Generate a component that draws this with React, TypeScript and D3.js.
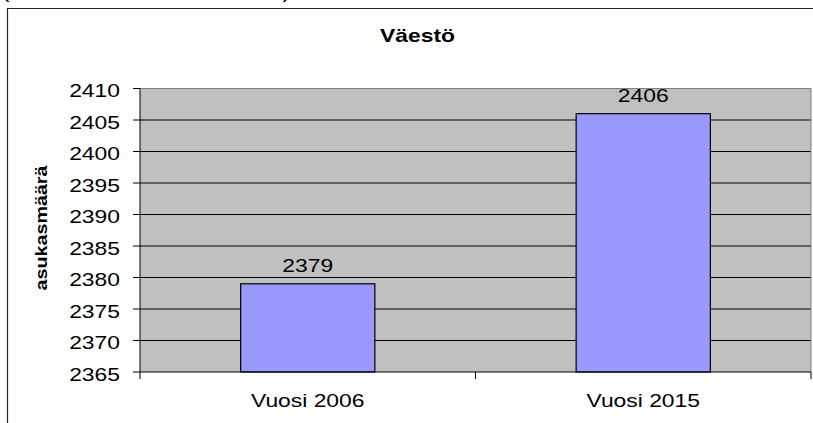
import React from "react";
import * as d3 from "d3";

const categories = ["Vuosi 2006", "Vuosi 2015"];
const populations = [2379, 2406];
const yTickValues = [2365, 2370, 2375, 2380, 2385, 2390, 2395, 2400, 2405, 2410];
const chartTitle = "Väestö";
const yAxisTitle = "asukasmäärä";

const W = 813;
const H = 423;
const P = { left: 140, right: 811, top: 88.5, bottom: 372 };
const FONT = "'Liberation Sans', Arial, Helvetica, sans-serif";
const SX = 1.27;

function SText(props: { x: number; y: number; anchor?: string; size?: number; bold?: boolean; children: any }) {
  const { x, y, anchor = "middle", size = 18, bold = false, children } = props;
  return (
    <g transform={`translate(${x},${y}) scale(${SX},1)`}>
      <text textAnchor={anchor} fontSize={size} fontWeight={bold ? "bold" : "normal"} fontFamily={FONT} fill="#000">
        {children}
      </text>
    </g>
  );
}

export default function App() {
  const x = d3.scaleBand<string>().domain(categories).range([P.left, P.right]).paddingInner(0.6).paddingOuter(0.3);
  const y = d3.scaleLinear().domain([yTickValues[0], yTickValues[yTickValues.length - 1]]).range([P.bottom, P.top]);
  const step = x.step();
  const xTickPositions = [P.left, ...categories.map((c) => (x(c) as number) - step * 0.3 + step)];

  return (
    <svg width={W} height={H} style={{ position: "absolute", left: 0, top: 0, background: "#fff" }}>
      {/* clipped caption remnants at top */}
      <SText x={2} y={-2} anchor="start">(</SText>
      <SText x={290} y={-2} anchor="end">)</SText>

      {/* outer frame */}
      <line x1={7.5} y1={8} x2={7.5} y2={H} stroke="#222" strokeWidth={1.2} />
      <line x1={7} y1={8.5} x2={W} y2={8.5} stroke="#222" strokeWidth={1.2} />

      <SText x={417.5} y={42} bold>{chartTitle}</SText>

      {/* plot area */}
      <rect x={P.left} y={P.top} width={P.right - P.left} height={P.bottom - P.top} fill="#C0C0C0" />
      {yTickValues.slice(1, -1).map((v) => (
        <line key={v} x1={P.left} x2={P.right} y1={y(v)} y2={y(v)} stroke="#000" strokeWidth={1} />
      ))}
      <line x1={P.left} x2={P.right} y1={P.top} y2={P.top} stroke="#808080" strokeWidth={1} />
      <line x1={P.right} x2={P.right} y1={P.top} y2={P.bottom} stroke="#808080" strokeWidth={1} />

      {categories.map((c, i) => (
        <rect
          key={c}
          x={x(c) as number}
          y={y(populations[i])}
          width={x.bandwidth()}
          height={P.bottom - y(populations[i])}
          fill="#9999FF"
          stroke="#000"
          strokeWidth={1.2}
        />
      ))}
      {categories.map((c, i) => (
        <SText key={c} x={(x(c) as number) + x.bandwidth() / 2} y={y(populations[i]) - 11.5}>
          {String(populations[i])}
        </SText>
      ))}

      {/* y axis */}
      <line x1={P.left} x2={P.left} y1={P.top} y2={P.bottom} stroke="#000" strokeWidth={1} />
      {yTickValues.map((v) => (
        <g key={v}>
          <line x1={P.left - 7} x2={P.left} y1={y(v)} y2={y(v)} stroke="#000" strokeWidth={1} />
          <SText x={120} y={y(v) + 8.5} anchor="end">{String(v)}</SText>
        </g>
      ))}

      {/* x axis */}
      <line x1={P.left} x2={P.right} y1={P.bottom} y2={P.bottom} stroke="#000" strokeWidth={1.2} />
      {xTickPositions.map((px, i) => (
        <line key={i} x1={px} x2={px} y1={P.bottom} y2={P.bottom + 7} stroke="#000" strokeWidth={1} />
      ))}
      {categories.map((c) => (
        <SText key={c} x={(x(c) as number) + x.bandwidth() / 2} y={407}>{c}</SText>
      ))}

      <g transform="translate(47,228) rotate(-90)">
        <text
          textAnchor="middle"
          fontSize={16}
          fontWeight="bold"
          fontFamily={FONT}
          textLength={125}
          lengthAdjust="spacingAndGlyphs"
          fill="#000"
        >
          {yAxisTitle}
        </text>
      </g>
    </svg>
  );
}
